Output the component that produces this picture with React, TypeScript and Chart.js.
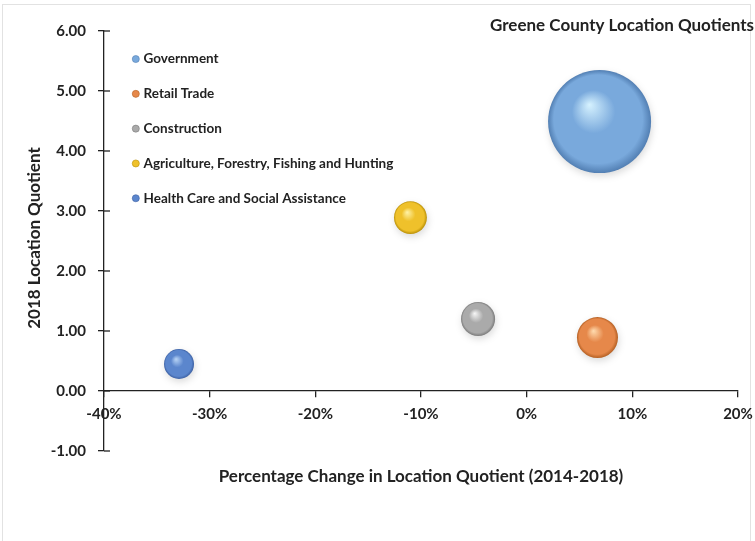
import { useEffect, useRef } from 'react';
import { Chart, registerables } from 'chart.js';

Chart.register(...registerables);

// ---- data ----
const industries = [
  'Government',
  'Retail Trade',
  'Construction',
  'Agriculture, Forestry, Fishing and Hunting',
  'Health Care and Social Assistance',
];
const lqChangePct = [6.9, 6.7, -4.6, -11.0, -32.9]; // % change in LQ 2014-2018
const lq2018 = [4.49, 0.89, 1.2, 2.89, 0.45]; // 2018 location quotient
const bubbleSize = [2650, 420, 290, 270, 225]; // relative bubble size (area)

const xTickMin = -40;
const xTickMax = 20;
const xTickStep = 10;
const yTickMin = -1;
const yTickMax = 6;
const yTickStep = 1;

const chartTitle = 'Greene County Location Quotients';
const xAxisTitle = 'Percentage Change in Location Quotient (2014-2018)';
const yAxisTitle = '2018 Location Quotient';

// ---- styles ----
const palette = [
  { light: '#d6f2ff', base: '#79a9dc', dark: '#527fb3' },
  { light: '#ffdcb0', base: '#e6884a', dark: '#b45f22' },
  { light: '#f7f7f7', base: '#aaaaaa', dark: '#7a7a7a' },
  { light: '#fff3a8', base: '#efc12b', dark: '#b98f05' },
  { light: '#b9d5f6', base: '#5b86cd', dark: '#3c60a3' },
];
const MAX_RADIUS = 51.5;
const FONT = 'Lato';
const TEXT = '#222222';

function sphereFill(c: any) {
  const pal = palette[c.datasetIndex] || palette[0];
  const chart = c.chart;
  if (c.type !== 'data' || !chart.chartArea || !c.raw) return pal.base;
  const raw = c.raw;
  const cx = chart.scales.x.getPixelForValue(raw.x);
  const cy = chart.scales.y.getPixelForValue(raw.y);
  const r = raw.r;
  const g = chart.ctx.createRadialGradient(cx - 0.2 * r, cy - 0.33 * r, 0, cx, cy, r);
  g.addColorStop(0, pal.light);
  g.addColorStop(0.42, pal.base);
  g.addColorStop(0.86, pal.base);
  g.addColorStop(1, pal.dark);
  return g;
}

const maxSize = Math.max(...bubbleSize);

function zeroPadding(scale: any) {
  scale.paddingLeft = 0;
  scale.paddingRight = 0;
  scale.paddingTop = 0;
  scale.paddingBottom = 0;
}

const framePlugin = {
  id: 'frame',
  beforeDraw(chart: any) {
    const ctx = chart.ctx;
    ctx.save();
    ctx.fillStyle = '#ffffff';
    ctx.fillRect(0, 0, chart.width, chart.height);
    ctx.strokeStyle = '#e2e2e2';
    ctx.lineWidth = 1;
    ctx.strokeRect(2.5, 4.5, 748, 540);
    ctx.restore();
  },
};

const legendShiftPlugin = {
  id: 'legendShift',
  afterLayout(chart: any) {
    const lg = chart.legend;
    const ca = chart.chartArea;
    if (!lg || !ca) return;
    lg.left = ca.left + 9.5;
    lg.right = ca.right;
    lg.top = ca.top;
    lg.bottom = ca.bottom;
  },
};

const shadowPlugin = {
  id: 'bubbleShadow',
  beforeDatasetsDraw(chart: any) {
    const ctx = chart.ctx;
    ctx.save();
    ctx.shadowColor = 'rgba(0,0,0,0.14)';
    ctx.shadowBlur = 7;
    ctx.shadowOffsetX = 1;
    ctx.shadowOffsetY = 3;
  },
  afterDatasetsDraw(chart: any) {
    chart.ctx.restore();
  },
};

const textPlugin = {
  id: 'texts',
  afterDraw(chart: any) {
    const ctx = chart.ctx;
    const ca = chart.chartArea;
    const ys = chart.scales.y;
    ctx.save();
    // inner half of the crossing y tick marks
    ctx.strokeStyle = TEXT;
    ctx.lineWidth = 1.3;
    ys.ticks.forEach((t: any) => {
      const py = ys.getPixelForValue(t.value);
      ctx.beginPath();
      ctx.moveTo(ca.left, py);
      ctx.lineTo(ca.left + 6, py);
      ctx.stroke();
    });
    ctx.fillStyle = TEXT;
    ctx.font = `bold 17px ${FONT}`;
    ctx.textBaseline = 'middle';
    // chart title
    ctx.textAlign = 'right';
    ctx.fillText(chartTitle, 754, 26);
    // x axis title
    ctx.textAlign = 'center';
    ctx.fillText(xAxisTitle, 421, 477);
    // y axis title
    ctx.translate(35, 238);
    ctx.rotate(-Math.PI / 2);
    ctx.fillText(yAxisTitle, 0, 0);
    ctx.restore();
  },
};

export default function App() {
  const ref = useRef<HTMLCanvasElement>(null);

  useEffect(() => {
    if (!ref.current) return;
    const datasets = industries.map((name, i) => ({
      label: name,
      data: [
        {
          x: lqChangePct[i],
          y: lq2018[i],
          r: MAX_RADIUS * Math.sqrt(bubbleSize[i] / maxSize),
        },
      ],
      backgroundColor: sphereFill,
      borderWidth: 0,
      hoverBorderWidth: 0,
      clip: false as any,
    }));

    const chart = new Chart(ref.current, {
      type: 'bubble',
      data: { datasets },
      options: {
        animation: false,
        responsive: false,
        events: [],
        layout: {
          autoPadding: false,
          padding: { left: 0, top: 31, right: 17, bottom: 90 },
        },
        scales: {
          x: {
            type: 'linear',
            position: { y: 0 } as any,
            min: xTickMin,
            max: xTickMax,
            afterFit: zeroPadding,
            ticks: {
              stepSize: xTickStep,
              autoSkip: false,
              maxRotation: 0,
              padding: 8,
              color: TEXT,
              font: { family: FONT, size: 15, weight: 'bold' },
              callback: (v: any) => `${v}%`,
            },
            grid: {
              display: true,
              drawOnChartArea: false,
              drawTicks: true,
              tickLength: 6,
              color: TEXT,
              lineWidth: 1.3,
            },
            border: { display: true, color: TEXT, width: 1.3 },
          },
          y: {
            type: 'linear',
            position: 'left',
            min: yTickMin,
            max: yTickMax,
            afterFit: (scale: any) => {
              scale.width = 104;
              zeroPadding(scale);
            },
            ticks: {
              stepSize: yTickStep,
              autoSkip: false,
              padding: 12,
              color: TEXT,
              font: { family: FONT, size: 15, weight: 'bold' },
              callback: (v: any) => Number(v).toFixed(2),
            },
            grid: {
              display: true,
              drawOnChartArea: false,
              drawTicks: true,
              tickLength: 6,
              color: TEXT,
              lineWidth: 1.3,
            },
            border: { display: true, color: TEXT, width: 1.3 },
          },
        },
        plugins: {
          title: { display: false },
          tooltip: { enabled: false },
          legend: {
            position: 'chartArea' as any,
            align: 'start',
            fullSize: false,
            labels: {
              usePointStyle: true,
              pointStyle: 'circle',
              boxWidth: 2,
              boxHeight: 5,
              padding: 21.3,
              color: TEXT,
              font: { family: FONT, size: 13.5, weight: 'bold' },
              generateLabels: (ch: any) =>
                ch.data.datasets.map((ds: any, i: number) => ({
                  text: ds.label,
                  fillStyle: palette[i].base,
                  strokeStyle: palette[i].dark,
                  lineWidth: 0.6,
                  pointStyle: 'circle',
                  hidden: false,
                  datasetIndex: i,
                  fontColor: TEXT,
                })),
            },
          },
        },
      },
      plugins: [framePlugin, legendShiftPlugin, shadowPlugin, textPlugin],
    });

    return () => chart.destroy();
  }, []);

  return (
    <div
      style={{
        position: 'absolute',
        left: 0,
        top: 0,
        width: 755,
        height: 541,
        background: '#ffffff',
      }}
    >
      <canvas ref={ref} width={755} height={541} style={{ display: 'block' }} />
    </div>
  );
}
